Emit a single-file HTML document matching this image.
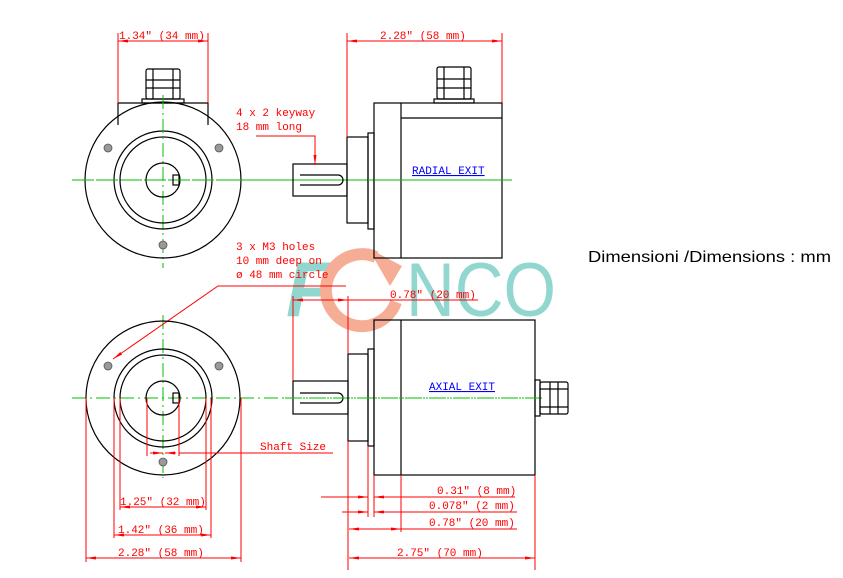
<!DOCTYPE html>
<html><head><style>
html,body{margin:0;padding:0;background:#fff;width:843px;height:578px;overflow:hidden}
svg{display:block}
.r{stroke:#f00;stroke-width:1;fill:none}
.k{stroke:#000;stroke-width:1.2;fill:none}
.g{stroke:#00c000;stroke-width:1;fill:none;stroke-dasharray:14,4,2,4}
.t{font-family:"Liberation Mono",monospace;font-size:11px;fill:#f00}
.b{font-family:"Liberation Mono",monospace;font-size:11px;fill:#00f;text-decoration:underline}
.h{fill:#999;stroke:#555;stroke-width:0.8}
</style></head><body>
<svg width="843" height="578" viewBox="0 0 843 578" xmlns="http://www.w3.org/2000/svg">
<defs>
<marker id="a" viewBox="0 0 10 6" refX="10" refY="3" markerWidth="10" markerHeight="6" orient="auto-start-reverse" markerUnits="userSpaceOnUse"><path d="M0,1.5L10,3L0,4.5z" fill="#f00"/></marker>
</defs>

<!-- watermark -->
<g opacity="0.9">
<text x="286" y="316" font-family="Liberation Sans,sans-serif" font-size="78" font-weight="bold" font-style="italic" fill="#86d3cc">F</text>
<path d="M396,302 A36,36 0 1 1 376,257" stroke="#f5a58a" stroke-width="12" fill="none"/>
<path d="M368,248 L402,266 L390,286 Z" fill="#f5a58a"/>
<text x="406" y="316" font-family="Liberation Sans,sans-serif" font-size="76" fill="#86d3cc" textLength="150" lengthAdjust="spacingAndGlyphs">NCO</text>
</g>

<!-- centerlines -->
<line class="g" x1="72" y1="180" x2="512" y2="180"/>
<line class="g" x1="163" y1="95" x2="163" y2="268"/>
<line class="g" x1="72" y1="398" x2="545" y2="398"/>
<line class="g" x1="163" y1="315" x2="163" y2="478"/>

<!-- top-left front view -->
<circle class="k" cx="163" cy="180" r="78" fill="#fff"/>
<path class="k" d="M118,103 H208 V125 M118,103 V125"/>
<circle class="k" cx="163" cy="180" r="49"/>
<circle class="k" cx="163" cy="180" r="43"/>
<circle class="k" cx="163" cy="180" r="17"/>
<rect class="k" x="173" y="175" width="6" height="10"/>
<circle class="h" cx="108" cy="148" r="4"/>
<circle class="h" cx="219" cy="148" r="4"/>
<circle class="h" cx="163" cy="245" r="4"/>
<rect class="k" x="142" y="99" width="42" height="4"/>
<rect class="k" x="146" y="69" width="34" height="30" rx="2"/>
<line class="k" x1="146" y1="80" x2="180" y2="80"/><line class="k" x1="146" y1="88" x2="180" y2="88"/>
<line class="k" x1="153" y1="69" x2="153" y2="99"/><line class="k" x1="173" y1="69" x2="173" y2="99"/>
<line class="g" x1="163" y1="95" x2="163" y2="140"/>
<line class="g" x1="80" y1="180" x2="250" y2="180"/>
<!-- 1.34 dim -->
<line class="r" x1="118" y1="33" x2="118" y2="103"/>
<line class="r" x1="208" y1="33" x2="208" y2="103"/>
<line class="r" x1="118" y1="41" x2="208" y2="41" marker-start="url(#a)" marker-end="url(#a)"/>
<text class="t" x="119" y="39">1.34" (34 mm)</text>

<!-- top-right side view -->
<rect class="k" x="374" y="103" width="128" height="155"/>
<line class="k" x1="401" y1="103" x2="401" y2="258"/>
<line class="k" x1="401" y1="118" x2="502" y2="118" stroke-width="2"/>
<rect class="k" x="368" y="133" width="6" height="96"/>
<rect class="k" x="347" y="137" width="21" height="86"/>
<rect class="k" x="293" y="164" width="54" height="32"/>
<path class="k" d="M300,175 H338 A5,5 0 0 1 338,185 H300"/>
<rect class="k" x="434" y="99" width="40" height="4"/>
<rect class="k" x="437" y="67" width="34" height="32" rx="2"/>
<line class="k" x1="437" y1="79" x2="471" y2="79"/><line class="k" x1="437" y1="88" x2="471" y2="88"/>
<line class="k" x1="444" y1="67" x2="444" y2="99"/><line class="k" x1="464" y1="67" x2="464" y2="99"/>
<line class="g" x1="230" y1="180" x2="505" y2="180"/>
<text class="b" x="412" y="174">RADIAL EXIT</text>
<line class="r" x1="347" y1="33" x2="347" y2="137"/>
<line class="r" x1="502" y1="33" x2="502" y2="103"/>
<line class="r" x1="347" y1="41" x2="502" y2="41" marker-start="url(#a)" marker-end="url(#a)"/>
<text class="t" x="380" y="39">2.28" (58 mm)</text>
<text class="t" x="236" y="116">4 x 2 keyway</text>
<text class="t" x="236" y="130">18 mm long</text>
<path class="r" d="M256,136 H315 V165" marker-end="url(#a)"/>

<!-- M3 note -->
<text class="t" x="236" y="250">3 x M3 holes</text>
<text class="t" x="236" y="264">10 mm deep on</text>
<text class="t" x="236" y="278">ø 48 mm circle</text>
<path class="r" d="M346,286 H218 L113,359" marker-end="url(#a)"/>

<!-- bottom-left front view -->
<circle class="k" cx="163" cy="398" r="77"/>
<circle class="k" cx="163" cy="398" r="49"/>
<circle class="k" cx="163" cy="398" r="43"/>
<circle class="k" cx="163" cy="398" r="17"/>
<rect class="k" x="173" y="393" width="6" height="10"/>
<circle class="h" cx="108" cy="366" r="4"/>
<circle class="h" cx="219" cy="366" r="4"/>
<circle class="h" cx="163" cy="462" r="4"/>
<!-- dims -->
<line class="r" x1="147" y1="398" x2="147" y2="456"/>
<line class="r" x1="179" y1="398" x2="179" y2="456"/>
<line class="r" x1="150" y1="453" x2="163" y2="453" marker-end="url(#a)"/>
<line class="r" x1="176" y1="453" x2="165" y2="453" marker-end="url(#a)"/>
<line class="r" x1="179" y1="453" x2="333" y2="453"/>
<text class="t" x="260" y="450">Shaft Size</text>
<line class="r" x1="120" y1="398" x2="120" y2="510"/>
<line class="r" x1="206" y1="398" x2="206" y2="510"/>
<line class="r" x1="120" y1="507" x2="206" y2="507" marker-start="url(#a)" marker-end="url(#a)"/>
<text class="t" x="120" y="505">1.25" (32 mm)</text>
<line class="r" x1="114" y1="398" x2="114" y2="538"/>
<line class="r" x1="211" y1="398" x2="211" y2="538"/>
<line class="r" x1="114" y1="535" x2="211" y2="535" marker-start="url(#a)" marker-end="url(#a)"/>
<text class="t" x="118" y="533">1.42" (36 mm)</text>
<line class="r" x1="86" y1="398" x2="86" y2="562"/>
<line class="r" x1="241" y1="398" x2="241" y2="562"/>
<line class="r" x1="86" y1="558" x2="241" y2="558" marker-start="url(#a)" marker-end="url(#a)"/>
<text class="t" x="118" y="556">2.28" (58 mm)</text>

<!-- bottom-right side view -->
<rect class="k" x="374" y="320" width="161" height="155"/>
<line class="k" x1="401" y1="320" x2="401" y2="475"/>
<rect class="k" x="368" y="349" width="6" height="97"/>
<rect class="k" x="348" y="354" width="20" height="87"/>
<rect class="k" x="293" y="381" width="55" height="33"/>
<path class="k" d="M300,393 H338 A5,5 0 0 1 338,403 H300"/>
<rect class="k" x="535" y="380" width="5" height="36"/>
<rect class="k" x="540" y="382" width="28" height="32" rx="2"/>
<line class="k" x1="550" y1="382" x2="550" y2="414"/><line class="k" x1="558" y1="382" x2="558" y2="414"/>
<line class="k" x1="540" y1="389" x2="568" y2="389"/><line class="k" x1="540" y1="407" x2="568" y2="407"/>
<text class="b" x="429" y="390">AXIAL EXIT</text>
<line class="g" x1="285" y1="398" x2="540" y2="398"/>
<!-- 0.78 top -->
<line class="r" x1="293" y1="296" x2="293" y2="381"/>
<line class="r" x1="348" y1="296" x2="348" y2="354"/>
<line class="r" x1="293" y1="300" x2="478" y2="300"/>
<line class="r" x1="305" y1="300" x2="293" y2="300" marker-end="url(#a)"/>
<line class="r" x1="336" y1="300" x2="348" y2="300" marker-end="url(#a)"/>
<text class="t" x="390" y="298">0.78" (20 mm)</text>
<!-- bottom dims -->
<line class="r" x1="348" y1="441" x2="348" y2="570"/>
<line class="r" x1="368" y1="446" x2="368" y2="517"/>
<line class="r" x1="374" y1="475" x2="374" y2="517"/>
<line class="r" x1="401" y1="475" x2="401" y2="532"/>
<line class="r" x1="321" y1="497" x2="368" y2="497" marker-end="url(#a)"/>
<line class="r" x1="376" y1="497" x2="515" y2="497"/>
<line class="r" x1="386" y1="497" x2="374" y2="497" marker-end="url(#a)"/>
<text class="t" x="437" y="494">0.31" (8 mm)</text>
<line class="r" x1="342" y1="512" x2="368" y2="512" marker-end="url(#a)"/>
<line class="r" x1="386" y1="512" x2="374" y2="512" marker-end="url(#a)"/>
<line class="r" x1="374" y1="512" x2="517" y2="512"/>
<text class="t" x="429" y="509">0.078" (2 mm)</text>
<line class="r" x1="349" y1="529" x2="401" y2="529" marker-start="url(#a)" marker-end="url(#a)"/>
<line class="r" x1="401" y1="529" x2="517" y2="529"/>
<text class="t" x="429" y="526">0.78" (20 mm)</text>
<line class="r" x1="535" y1="475" x2="535" y2="570"/>
<line class="r" x1="349" y1="558" x2="535" y2="558" marker-start="url(#a)" marker-end="url(#a)"/>
<text class="t" x="397" y="556">2.75" (70 mm)</text>

<text x="588" y="262" font-family="Liberation Sans,sans-serif" font-size="16" fill="#000" textLength="243" lengthAdjust="spacingAndGlyphs">Dimensioni /Dimensions : mm</text>
</svg>
</body></html>
